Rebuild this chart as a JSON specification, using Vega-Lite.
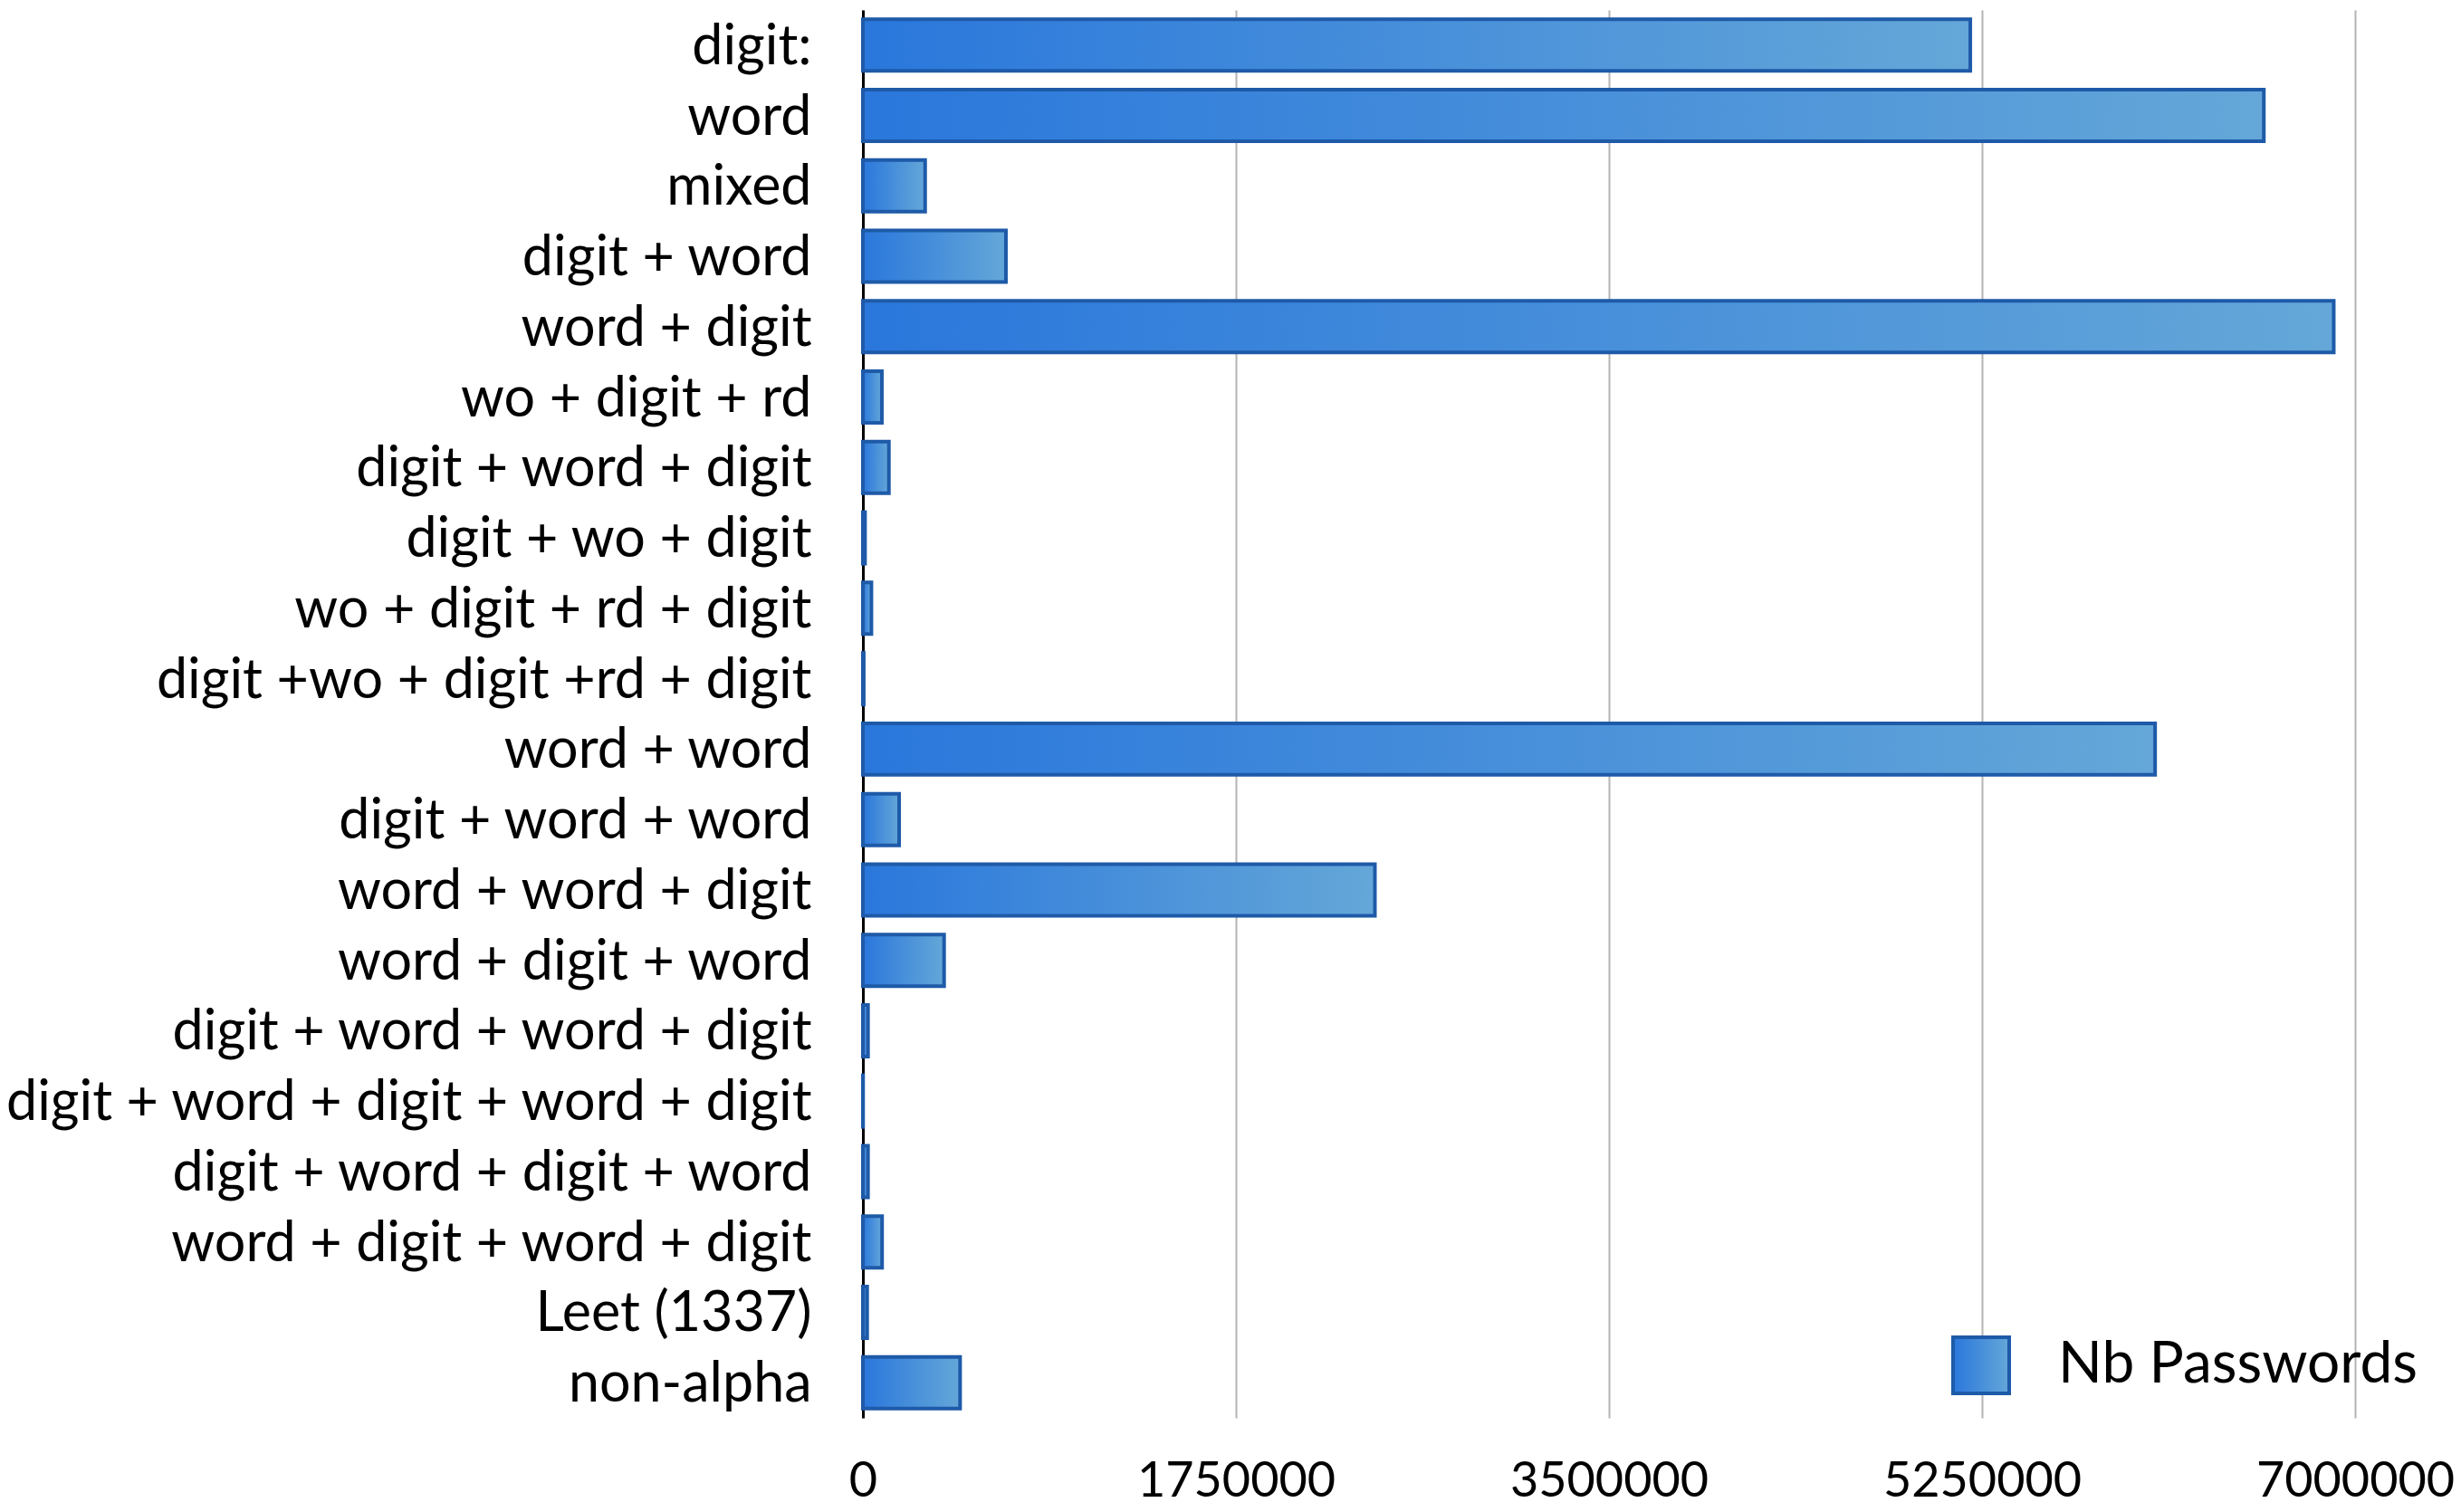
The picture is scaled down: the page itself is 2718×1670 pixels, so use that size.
{
  "$schema": "https://vega.github.io/schema/vega-lite/v6.json",
  "autosize": "none",
  "width": 1648,
  "height": 1555,
  "padding": {"left": 953, "top": 11, "right": 117, "bottom": 104},
  "background": "white",
  "data": {
    "values": [
      {"pattern": "digit:", "count": 5195000},
      {"pattern": "word", "count": 6572000},
      {"pattern": "mixed", "count": 292000},
      {"pattern": "digit + word", "count": 671000},
      {"pattern": "word + digit", "count": 6900000},
      {"pattern": "wo + digit + rd", "count": 89000},
      {"pattern": "digit + word + digit", "count": 122000},
      {"pattern": "digit + wo + digit", "count": 10000},
      {"pattern": "wo + digit + rd + digit", "count": 40000},
      {"pattern": "digit +wo + digit +rd + digit", "count": 4000},
      {"pattern": "word + word", "count": 6062000},
      {"pattern": "digit + word + word", "count": 170000},
      {"pattern": "word + word + digit", "count": 2402000},
      {"pattern": "word + digit + word", "count": 381000},
      {"pattern": "digit + word + word + digit", "count": 24000},
      {"pattern": "digit + word + digit + word + digit", "count": 1000},
      {"pattern": "digit + word + digit + word", "count": 24000},
      {"pattern": "word + digit + word + digit", "count": 90000},
      {"pattern": "Leet (1337)", "count": 20000},
      {"pattern": "non-alpha", "count": 456000}
    ]
  },
  "mark": {
    "type": "bar",
    "fill": {
      "gradient": "linear",
      "x1": 0, "y1": 0, "x2": 1, "y2": 0,
      "stops": [
        {"offset": 0, "color": "#2a77dc"},
        {"offset": 1, "color": "#64a7d8"}
      ]
    },
    "strokeWidth": 4,
    "fillOpacity": 1
  },
  "encoding": {
    "y": {
      "field": "pattern",
      "type": "nominal",
      "sort": null,
      "title": null,
      "scale": {"paddingInner": 0.267, "paddingOuter": 0.133},
      "axis": {
        "ticks": false,
        "tickSize": 0,
        "grid": false,
        "domain": true,
        "domainColor": "#000000",
        "domainWidth": 3,
        "labelFont": "Lato",
        "labelFontSize": 61,
        "labelColor": "#000000",
        "labelPadding": 57,
        "labelOffset": 3,
        "labelLimit": 1200
      }
    },
    "x": {
      "field": "count",
      "type": "quantitative",
      "title": null,
      "scale": {"domain": [0, 7000000], "nice": false},
      "axis": {
        "values": [0, 1750000, 3500000, 5250000, 7000000],
        "format": "d",
        "ticks": false,
        "tickSize": 0,
        "domain": false,
        "grid": true,
        "gridColor": "#b4b4b4",
        "gridWidth": 2,
        "labelFont": "Lato",
        "labelFontSize": 54,
        "labelColor": "#000000",
        "labelBaseline": "alphabetic",
        "labelPadding": 86,
        "labelFlush": false,
        "labelOverlap": false,
        "labelLimit": 600
      }
    },
    "stroke": {
      "datum": "Nb Passwords",
      "type": "nominal",
      "scale": {"range": ["#1e5aa8"]},
      "legend": {
        "title": null,
        "orient": "none",
        "legendX": 1202,
        "legendY": 1464,
        "padding": 0,
        "symbolType": "square",
        "symbolSize": 3844,
        "symbolStrokeWidth": 4,
        "labelFont": "Lato",
        "labelFontSize": 64,
        "labelColor": "#000000",
        "labelOffset": 52,
        "labelLimit": 800,
        "encode": {
          "symbols": {
            "update": {
              "fill": {"value": {
                "gradient": "linear",
                "x1": 0, "y1": 0, "x2": 1, "y2": 0,
                "stops": [
                  {"offset": 0, "color": "#2a77dc"},
                  {"offset": 1, "color": "#64a7d8"}
                ]
              }},
              "fillOpacity": {"value": 1},
              "stroke": {"value": "#1e5aa8"}
            }
          }
        }
      }
    }
  },
  "config": {
    "view": {"stroke": null}
  }
}
